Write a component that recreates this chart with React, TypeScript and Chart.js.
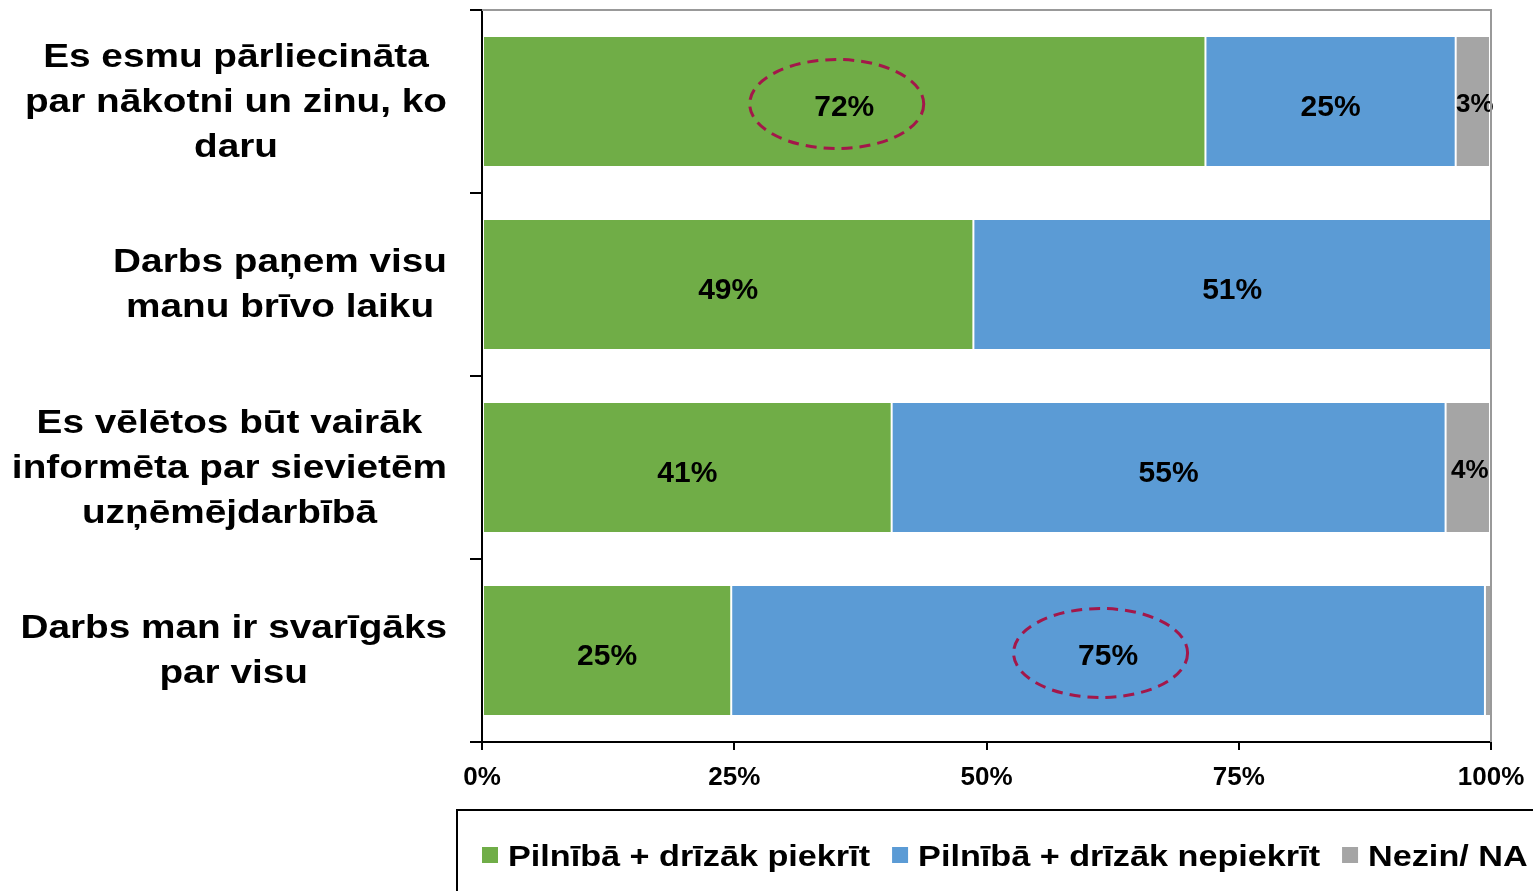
import React, { useEffect, useRef } from 'react';
import { Chart, registerables } from 'chart.js';
Chart.register(...registerables);

const categories: string[][] = [
  ['Es esmu pārliecināta', 'par nākotni un zinu, ko', 'daru'],
  ['Darbs paņem visu', 'manu brīvo laiku'],
  ['Es vēlētos būt vairāk', 'informēta par sievietēm', 'uzņēmējdarbībā'],
  ['Darbs man ir svarīgāks', 'par visu'],
];
const seriesNames = ['Pilnībā + drīzāk piekrīt', 'Pilnībā + drīzāk nepiekrīt', 'Nezin/ NA'];
const agree = [71.7, 48.7, 40.6, 24.7];
const disagree = [24.8, 51.3, 54.9, 74.7];
const dontKnow = [3.4, 0, 4.4, 0.6];
const xTickValues = [0, 25, 50, 75, 100];
const highlights: [number, number][] = [[0, 0], [1, 3]];
const seriesColors = ['#70AD47', '#5B9BD5', '#A5A5A5'];

const FONT = '"Liberation Sans", Arial, sans-serif';
const STRETCH = 1.14;

export default function App() {
  const ref = useRef<HTMLCanvasElement | null>(null);
  useEffect(() => {
    const canvas = ref.current!;
    const drawStretched = (ctx: any, text: string, x: number, y: number) => {
      ctx.save();
      ctx.translate(x, y);
      ctx.scale(STRETCH, 1);
      ctx.fillText(text, 0, 0);
      ctx.restore();
    };
    const labelsPlugin = {
      id: 'customText',
      afterDatasetsDraw(chart: any) {
        const ctx = chart.ctx;
        ctx.save();
        ctx.fillStyle = '#000';
        ctx.textAlign = 'center';
        ctx.textBaseline = 'middle';
        chart.data.datasets.forEach((ds: any, di: number) => {
          const meta = chart.getDatasetMeta(di);
          meta.data.forEach((el: any, i: number) => {
            const v = ds.data[i];
            if (v < 2) return;
            const cx = (el.x + el.base) / 2;
            const cy = el.y + 6;
            ctx.font = `bold ${v < 10 ? 26 : 30}px ${FONT}`;
            ctx.fillText(Math.round(v) + '%', cx + (v < 10 ? 2 : 0), cy - (v < 10 ? 3 : 0));
          });
        });
        // highlight ellipses
        ctx.strokeStyle = '#A3174A';
        ctx.lineWidth = 3;
        ctx.setLineDash([11, 7]);
        highlights.forEach(([di, i]) => {
          const el: any = chart.getDatasetMeta(di).data[i];
          const cx = (el.x + el.base) / 2 - 7.5;
          const cy = el.y + 2.5;
          ctx.beginPath();
          ctx.ellipse(cx, cy, 87, 44.5, 0, 0, Math.PI * 2);
          ctx.stroke();
        });
        ctx.restore();
      },
      afterDraw(chart: any) {
        const ctx = chart.ctx;
        const area = chart.chartArea;
        ctx.save();
        // plot border top/right
        ctx.strokeStyle = '#999';
        ctx.lineWidth = 2;
        ctx.beginPath();
        ctx.moveTo(area.left, area.top);
        ctx.lineTo(area.right, area.top);
        ctx.lineTo(area.right, area.bottom);
        ctx.stroke();
        // category labels
        const yScale = chart.scales.y;
        ctx.fillStyle = '#000';
        ctx.font = `bold 34px ${FONT}`;
        ctx.textAlign = 'center';
        ctx.textBaseline = 'middle';
        const rightEdge = 447;
        const lineH = 45;
        categories.forEach((lines, i) => {
          const w = Math.max(...lines.map((l) => ctx.measureText(l).width)) * STRETCH;
          const cx = rightEdge - w / 2;
          const cy = yScale.getPixelForValue(i) + 1;
          lines.forEach((l, k) => {
            drawStretched(ctx, l, cx, cy + (k - (lines.length - 1) / 2) * lineH);
          });
        });
        // legend
        ctx.strokeStyle = '#000';
        ctx.lineWidth = 2;
        ctx.strokeRect(457, 810, 1200, 200);
        ctx.font = `bold 30px ${FONT}`;
        ctx.textAlign = 'left';
        ctx.textBaseline = 'alphabetic';
        let x = 482;
        seriesNames.forEach((name, i) => {
          ctx.fillStyle = seriesColors[i];
          ctx.fillRect(x, 847, 16, 16);
          ctx.fillStyle = '#000';
          drawStretched(ctx, name, x + 26, 866);
          x += 26 + ctx.measureText(name).width * STRETCH + 22;
        });
        ctx.restore();
      },
    };

    const chart = new Chart(canvas, {
      type: 'bar',
      data: {
        labels: categories.map((c) => c.join(' ')),
        datasets: [agree, disagree, dontKnow].map((d, i) => ({
          label: seriesNames[i],
          data: d,
          backgroundColor: seriesColors[i],
          borderColor: 'rgba(255,255,255,0.5)',
          borderWidth: 1,
          borderSkipped: false,
          barPercentage: 0.716,
          categoryPercentage: 1,
        })),
      },
      options: {
        indexAxis: 'y',
        responsive: false,
        animation: false,
        layout: { padding: { top: 10, right: 42, left: 0, bottom: 0 } },
        plugins: { legend: { display: false }, tooltip: { enabled: false } },
        scales: {
          x: {
            type: 'linear',
            stacked: true,
            min: 0,
            max: 100,
            afterBuildTicks: (s: any) => {
              s.ticks = xTickValues.map((v) => ({ value: v }));
            },
            ticks: {
              callback: (v: any) => v + '%',
              color: '#000',
              font: { family: FONT, size: 26, weight: 'bold' },
              padding: 12,
              maxRotation: 0,
            },
            grid: { drawOnChartArea: false, drawTicks: true, tickLength: 8, color: '#000', lineWidth: 2 },
            border: { display: true, color: '#000', width: 2 },
            afterFit: (s: any) => {
              s.height = 149;
              s.paddingLeft = 0;
              s.paddingRight = 0;
            },
          },
          y: {
            type: 'category',
            stacked: true,
            ticks: { display: false },
            grid: { offset: true, drawOnChartArea: false, drawTicks: true, tickLength: 12, color: '#000', lineWidth: 2 },
            border: { display: true, color: '#000', width: 2 },
            afterFit: (s: any) => {
              s.width = 482;
              s.paddingTop = 0;
              s.paddingBottom = 0;
            },
          },
        },
      },
      plugins: [labelsPlugin],
    } as any);
    return () => chart.destroy();
  }, []);
  return (
    <div style={{ position: 'fixed', left: 0, top: 0, width: 1533, height: 891, overflow: 'hidden', background: '#fff' }}>
      <canvas ref={ref} width={1533} height={891} style={{ display: 'block' }} />
    </div>
  );
}
